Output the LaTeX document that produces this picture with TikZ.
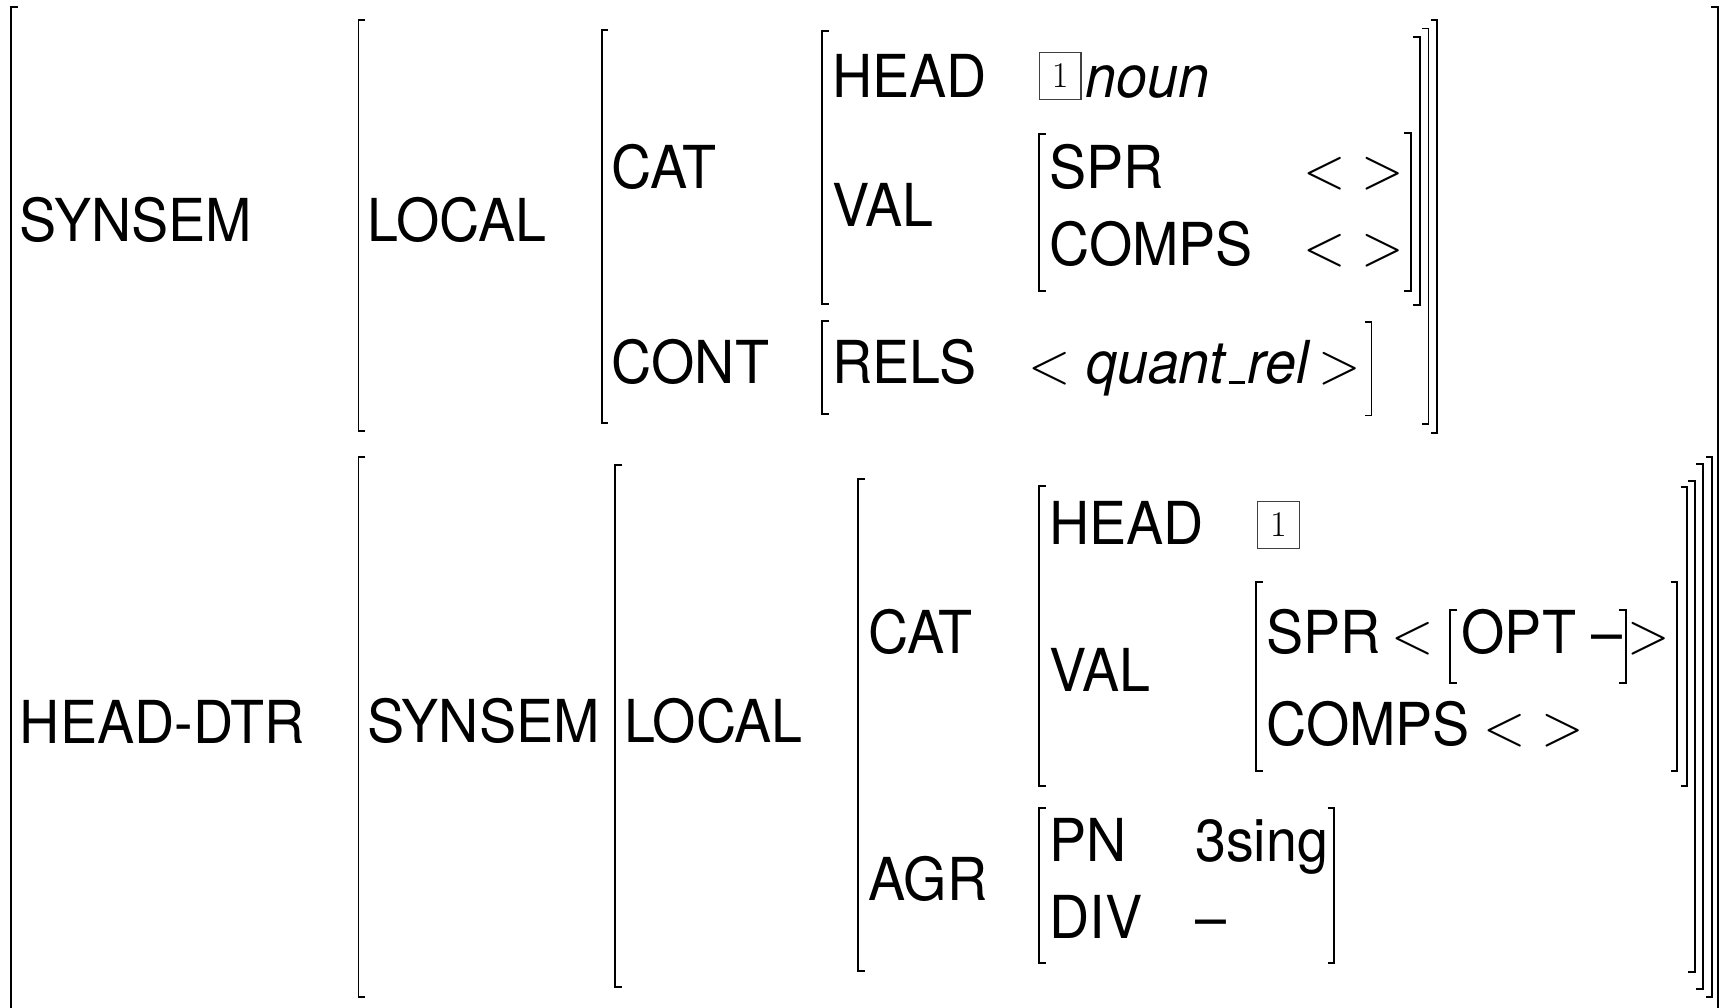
\documentclass[tikz,border=0pt]{standalone}
\usepackage{fix-cm}
\usepackage[no-math]{fontspec}
\setmainfont{TeX Gyre Heros}
\usepackage{graphicx}
\newcommand\Tx[1]{\scalebox{0.94}[1]{#1}}
\newcommand\uscore{\kern.06em\rule{0.3em}{2.2pt}\kern.04em}
\newcommand\avmL[3]{\draw[brk] ({#1+6},{-#2}) -- (#1,{-#2}) -- (#1,{-#3}) -- ({#1+6},{-#3});}
\newcommand\avmR[3]{\draw[brk] ({#1-6},{-#2}) -- (#1,{-#2}) -- (#1,{-#3}) -- ({#1-6},{-#3});}
\begin{document}
\begin{tikzpicture}[x=1pt,y=1pt,
  brk/.style={line width=1.8pt, line cap=butt, line join=miter},
  lbl/.style={anchor=base west, inner sep=0pt, font=\fontsize{54}{60}\selectfont},
  tag/.style={draw=black!75, line width=1pt, minimum width=38pt, minimum height=43pt, inner sep=0pt, font=\fontsize{33}{36}\selectfont}]
\useasboundingbox (0,0) rectangle (1568,-919);
\fill[white] (0,0) rectangle (1568,-919);
% ---------- top part ----------
\node[lbl] (s1) at (18,-220) {\Tx{SYNSEM}};
\node[lbl] (l1) at (335,-220) {\Tx{LOCAL}};
\node[lbl] (cat1) at (558,-172) {\Tx{CAT}};
\node[lbl] (cont1) at (558,-350) {\Tx{CONT}};
\node[lbl] (head1) at (759,-89) {\Tx{HEAD}};
\node[lbl] (val1) at (759,-207) {\Tx{VAL}};
\node[tag] (t1) at (967,-69.5) {$1$};
\node[lbl] (noun) at (990,-89) {\Tx{\textit{noun}}};
\node[lbl] (spr1) at (957,-172) {\Tx{SPR}};
\node[lbl] (comps1) at (957,-242) {\Tx{COMPS}};
\node[lbl] (sprv1) at (1189,-172) {\Tx{$<$ $>$}};
\node[lbl] (compsv1) at (1189,-242) {\Tx{$<$ $>$}};
\node[lbl] (rels) at (759,-350) {\Tx{RELS}};
\node[lbl] (relsv) at (938,-350) {\Tx{$<$ \textit{quant\uscore rel}\kern8pt$>$}};
% ---------- bottom part ----------
\node[lbl] (hd) at (18,-678) {\Tx{HEAD-DTR}};
\node[lbl] (s2) at (335,-677) {\Tx{SYNSEM}};
\node[lbl] (l2) at (569,-677) {\Tx{LOCAL}};
\node[lbl] (cat2) at (792,-596) {\Tx{CAT}};
\node[lbl] (agr) at (792,-821) {\Tx{AGR}};
\node[lbl] (head2) at (957,-497) {\Tx{HEAD}};
\node[tag] (t2) at (1166,-479) {$1$};
\node[lbl] (val2) at (957,-631) {\Tx{VAL}};
\node[lbl] (spr2) at (1155,-596) {\Tx{SPR}};
\node[lbl] (lt2) at (1269,-596) {\Tx{$<$}};
\node[lbl] (opt) at (1333,-596) {\Tx{OPT –}};
\node[lbl] (gt2) at (1484,-596) {\Tx{$>$}};
\node[lbl] (comps2) at (1155,-680) {\Tx{COMPS}};
\node[lbl] (compsv2) at (1353,-680) {\Tx{$<$ $>$}};
\node[lbl] (pn) at (957,-786) {\Tx{PN}};
\node[lbl] (pnv) at (1090,-786) {\Tx{3sing}};
\node[lbl] (div) at (957,-856) {\Tx{DIV}};
\node[lbl] (divv) at (1090,-856) {\Tx{–}};
% ---------- brackets ----------
\draw[brk] (16,-6) -- (10,-6) -- (10,-925);
\draw[brk] (1561,-6) -- (1567,-6) -- (1567,-925);
\avmL{327}{18}{393}
\avmR{1311}{18}{395}
\avmL{549}{27}{386}
\avmR{1303}{26}{387}
\avmL{750}{28}{277}
\avmR{1295}{34}{278}
\avmL{948}{122}{265}
\avmR{1287}{121}{265}
\avmL{750}{293}{378}
\avmR{1251}{294}{379}
\avmL{327}{417}{909}
\avmR{1562}{417}{909}
\avmL{561}{424}{900}
\avmR{1553}{423}{902}
\avmL{783}{437}{886}
\avmR{1546}{439}{887}
\avmL{948}{443}{717}
\avmR{1539}{444}{717}
\avmL{1146}{531}{703}
\avmR{1530}{531}{703}
\avmL{1323}{556}{623}
\avmR{1483}{556}{623}
\avmL{948}{737}{878}
\avmR{1217}{737}{878}
\end{tikzpicture}
\end{document}
